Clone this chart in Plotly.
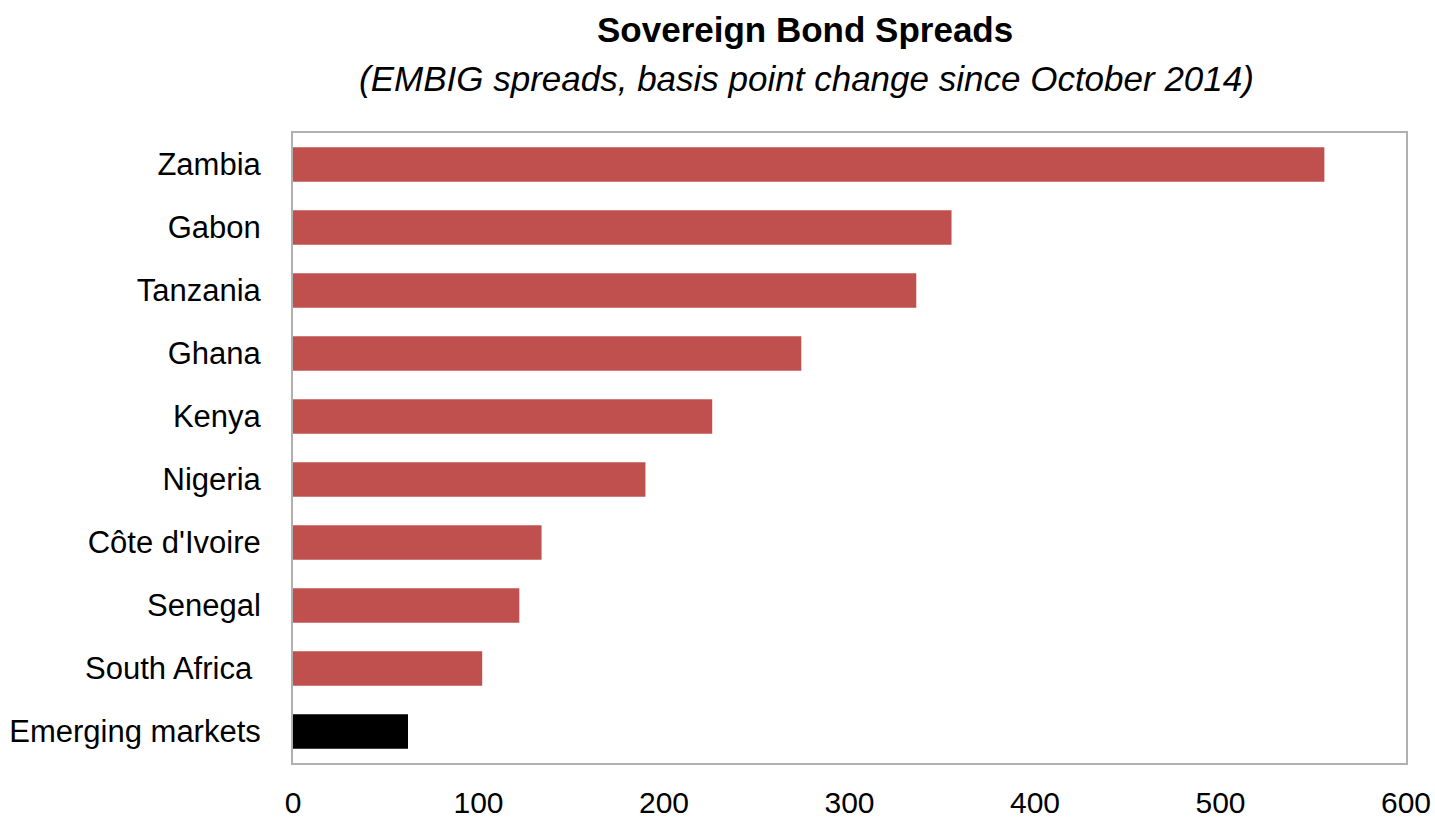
import plotly.graph_objects as go

countries = ["Zambia", "Gabon", "Tanzania", "Ghana", "Kenya", "Nigeria",
             "Côte d'Ivoire", "Senegal", "South Africa ", "Emerging markets"]
spread_change = [556, 355, 336, 274, 226, 190, 134, 122, 102, 62]
bar_colors = ["#C0504D"] * 9 + ["#000000"]
x_ticks = [0, 100, 200, 300, 400, 500, 600]

FONT = "Liberation Sans, Arial, sans-serif"

# plot area in pixels
L, R, T, B = 293, 1406, 133, 763
W, H = 1435, 823


def px_to_paper(px, py):
    return (px - L) / (R - L), (B - py) / (B - T)


tx, ty = px_to_paper(805, 30)
sx, sy = px_to_paper(806, 78)

fig = go.Figure(go.Bar(
    x=spread_change,
    y=countries,
    orientation="h",
    marker=dict(color=bar_colors, line=dict(width=0)),
    width=0.55,
))

fig.update_layout(
    width=W, height=H,
    margin=dict(l=L, r=W - R, t=T, b=H - B),
    paper_bgcolor="white", plot_bgcolor="white",
    font=dict(family=FONT, color="black", size=31),
    showlegend=False,
    annotations=[
        dict(text="<b>Sovereign Bond Spreads</b>", x=tx, y=ty,
             xref="paper", yref="paper", xanchor="center", yanchor="middle",
             showarrow=False, font=dict(size=35, family=FONT)),
        dict(text="<i>(EMBIG spreads, basis point change since October 2014)</i>",
             x=sx, y=sy, xref="paper", yref="paper",
             xanchor="center", yanchor="middle", showarrow=False,
             font=dict(size=35, family=FONT)),
    ],
)

fig.update_xaxes(
    range=[0, 600], tickvals=x_ticks, showgrid=False, zeroline=False,
    showline=True, linecolor="#B0B0B0", linewidth=2, mirror=True,
    ticks="", ticklabelstandoff=12, tickfont=dict(size=30), automargin=False,
)
fig.update_yaxes(
    autorange="reversed", showgrid=False, zeroline=False,
    showline=True, linecolor="#B0B0B0", linewidth=2, mirror=True,
    ticks="", ticklabelstandoff=24, tickfont=dict(size=31), automargin=False,
)

fig.write_html("out.html")
